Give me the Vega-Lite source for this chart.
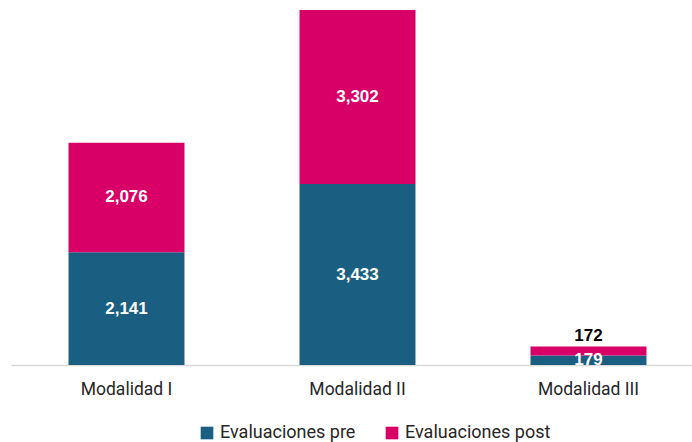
{
  "$schema": "https://vega.github.io/schema/vega-lite/v6.json",
  "width": 693,
  "height": 365,
  "autosize": {"type": "none"},
  "padding": {"left": 11, "top": 0, "right": 0, "bottom": 77},
  "background": "white",
  "config": {"view": {"stroke": null}},
  "data": {"values": [
    {"categoria": "Modalidad I", "serie": "Evaluaciones pre", "valor": 2141},
    {"categoria": "Modalidad I", "serie": "Evaluaciones post", "valor": 2076},
    {"categoria": "Modalidad II", "serie": "Evaluaciones pre", "valor": 3433},
    {"categoria": "Modalidad II", "serie": "Evaluaciones post", "valor": 3302},
    {"categoria": "Modalidad III", "serie": "Evaluaciones pre", "valor": 179},
    {"categoria": "Modalidad III", "serie": "Evaluaciones post", "valor": 172}
  ]},
  "encoding": {
    "x": {
      "field": "categoria", "type": "nominal", "title": null,
      "scale": {"paddingInner": 0.498, "paddingOuter": 0.249},
      "axis": {"labelAngle": 0, "ticks": false, "domainColor": "#d9d9d9", "domainWidth": 1.5,
               "labelFont": "Roboto", "labelFontSize": 17.5, "labelColor": "#262626",
               "labelPadding": 15, "grid": false}
    },
    "y": {
      "field": "valor", "type": "quantitative", "stack": "zero",
      "scale": {"domain": [0, 6925], "nice": false},
      "axis": null
    }
  },
  "layer": [
    {
      "mark": {"type": "bar"},
      "encoding": {
        "color": {
          "field": "serie", "type": "nominal",
          "sort": ["Evaluaciones pre", "Evaluaciones post"],
          "scale": {"domain": ["Evaluaciones pre", "Evaluaciones post"], "range": ["#1A5F82", "#D80066"]},
          "legend": {
            "title": null, "orient": "none", "direction": "horizontal",
            "legendX": 187, "legendY": 424,
            "symbolType": "square", "symbolSize": 160, "symbolStrokeWidth": 0,
            "labelFont": "Roboto", "labelFontSize": 18, "labelColor": "#262626",
            "labelOffset": 4, "columnPadding": 27, "labelLimit": 300
          }
        }
      }
    },
    {
      "mark": {"type": "text", "font": "Liberation Sans", "fontWeight": "bold", "fontSize": 17, "color": "white", "baseline": "middle", "clip": true},
      "encoding": {
        "y": {"field": "valor", "type": "quantitative", "stack": "zero", "bandPosition": 0.5},
        "detail": {"field": "serie", "sort": ["Evaluaciones pre", "Evaluaciones post"]},
        "text": {"field": "valor", "type": "quantitative", "format": ","},
        "opacity": {"condition": {"test": "datum.categoria !== 'Modalidad III' || datum.serie === 'Evaluaciones pre'", "value": 1}, "value": 0}
      }
    },
    {
      "mark": {"type": "text", "font": "Liberation Sans", "fontWeight": "bold", "fontSize": 17, "color": "black", "baseline": "bottom", "dy": -1},
      "encoding": {
        "detail": {"field": "serie", "sort": ["Evaluaciones pre", "Evaluaciones post"]},
        "text": {"field": "valor", "type": "quantitative", "format": ","},
        "opacity": {"condition": {"test": "datum.categoria === 'Modalidad III' && datum.serie === 'Evaluaciones post'", "value": 1}, "value": 0}
      }
    }
  ]
}
